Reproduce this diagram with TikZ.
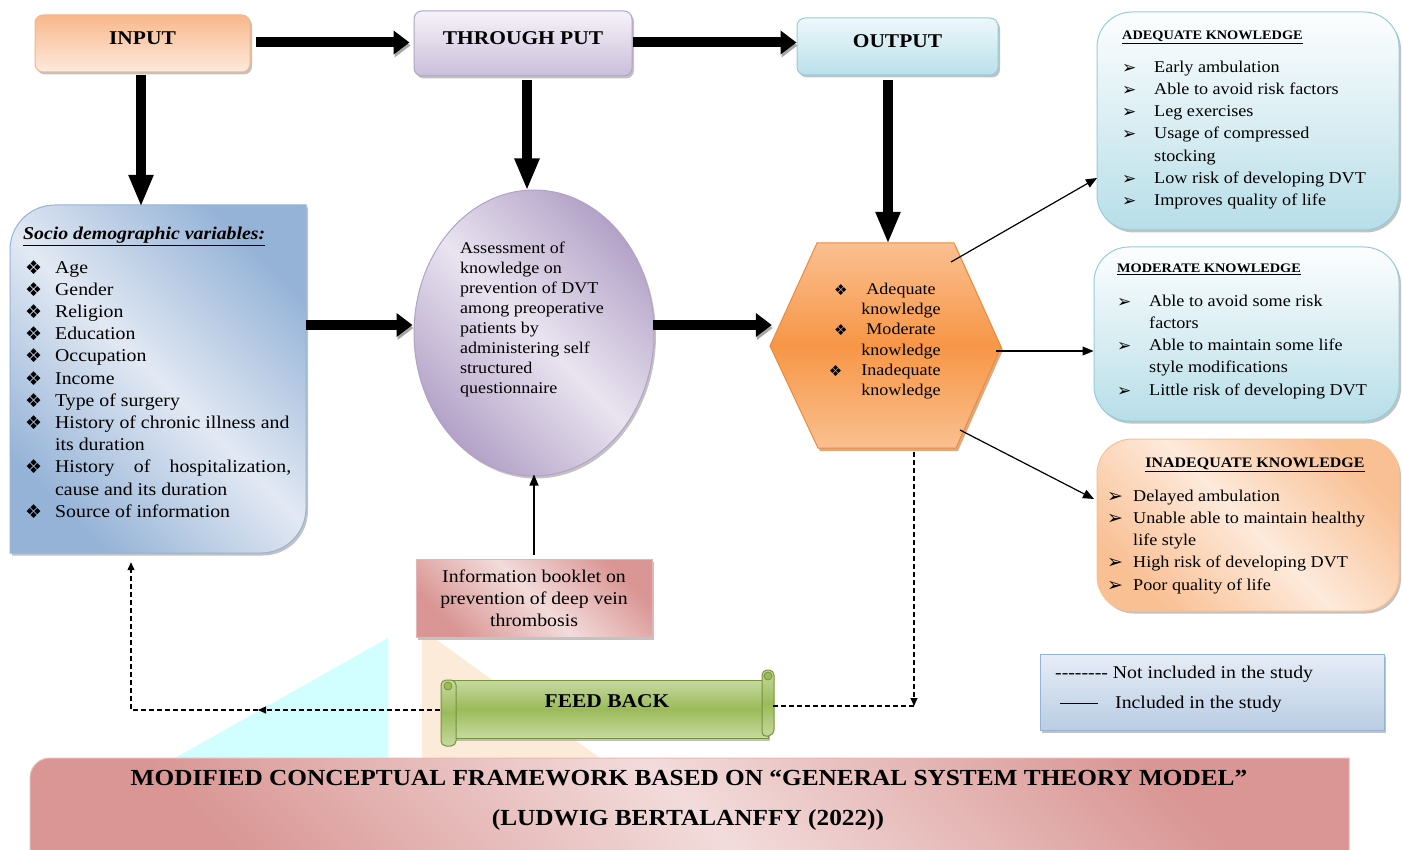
\documentclass[tikz,border=0pt]{standalone}
\usepackage{fontspec}
\setmainfont{Liberation Serif}[FakeStretch=1.1]
\newfontfamily\symf{DejaVu Sans}
\usetikzlibrary{shapes.geometric,arrows.meta,shadows,calc}
\definecolor{inOr}{HTML}{F8B88C}
\definecolor{inLt}{HTML}{FDEADC}
\definecolor{inBd}{HTML}{F6B48A}
\definecolor{puT}{HTML}{F6F3F9}
\definecolor{puB}{HTML}{CABEDA}
\definecolor{puBd}{HTML}{B3A2C7}
\definecolor{ouT}{HTML}{EEF8FA}
\definecolor{ouB}{HTML}{B9E0EA}
\definecolor{cyBd}{HTML}{93CDDD}
\definecolor{soD}{HTML}{95B3D7}
\definecolor{soL}{HTML}{E2E9F3}
\definecolor{elD}{HTML}{B3A2C7}
\definecolor{elL}{HTML}{E9E4F0}
\definecolor{hxL}{HTML}{FAC090}
\definecolor{hxD}{HTML}{F79646}
\definecolor{hxBd}{HTML}{EE8A3C}
\definecolor{hxSh}{HTML}{B65708}
\definecolor{cyT}{HTML}{FDFEFE}
\definecolor{cyB}{HTML}{B7DEE8}
\definecolor{orD}{HTML}{F9C094}
\definecolor{orL}{HTML}{FDEADB}
\definecolor{pkD}{HTML}{D99694}
\definecolor{pkL}{HTML}{F2DCDB}
\definecolor{pkBd}{HTML}{E6B9B8}
\definecolor{grG}{HTML}{9BBB59}
\definecolor{grL}{HTML}{C6D9A0}
\definecolor{grBd}{HTML}{76923C}
\definecolor{lgT}{HTML}{E6EDF6}
\definecolor{lgB}{HTML}{BACDE4}
\definecolor{wmC}{HTML}{D1FFFF}
\definecolor{wmP}{HTML}{FDEBD9}
\newcommand{\dmd}[1]{\raisebox{-1pt}{\symf\fontsize{#1}{#1}\selectfont ❖}}
\newcommand{\harr}[1]{\raisebox{-1pt}{\symf\fontsize{#1}{#1}\selectfont ➢}}
\newcommand{\fsz}[2]{\fontsize{#1}{#2}\selectfont}
\begin{document}
\begin{tikzpicture}[x=1pt,y=-1pt,
  hbig/.style={line width=10pt,-{Triangle[length=16pt,width=23pt]},
    preaction={draw=black!35,transform canvas={xshift=1pt,yshift=-3pt}}},
  vbig/.style={line width=10pt,-{Triangle[length=32pt,width=23pt]}},
  thinarr/.style={line width=1.2pt,-{Triangle[length=11pt,width=9pt]}},
  dashln/.style={line width=1.1pt,dash pattern=on 5pt off 3pt},
  dtip/.style={-{Triangle[length=8pt,width=7pt]}},
  sh/.style={drop shadow={shadow xshift=2pt,shadow yshift=-2.5pt,fill=black!40,opacity=0.6}},
  hdr/.style={font=\bfseries\fsz{19.5}{22},inner sep=0pt,line width=1pt,sh},
  anchorbox/.style={inner sep=0pt,draw=none}
]
\useasboundingbox (0,0) rectangle (1403,850);
% watermark shapes
\fill[wmC] (175,758) -- (388,638) -- (388,758) -- cycle;
\fill[wmP] (422,640) -- (437,640) -- (600,758) -- (422,758) -- cycle;

% header boxes
\node[hdr,draw=inBd,top color=inOr,bottom color=inLt,rounded corners=8pt,
  minimum width=215pt,minimum height=57pt] (input) at (142.5,43.5) {\raisebox{10.5pt}{INPUT}};
\node[hdr,draw=puBd,top color=puT,bottom color=puB,rounded corners=8pt,
  minimum width=218pt,minimum height=65pt] (thru) at (523,43.5) {\raisebox{10pt}{THROUGH PUT}};
\node[hdr,draw=cyBd,top color=ouT,bottom color=ouB,rounded corners=8pt,
  minimum width=201pt,minimum height=57pt] (output) at (897.5,46.5) {\raisebox{10.5pt}{OUTPUT}};

% socio demographic box
\node[anchorbox,minimum width=296pt,minimum height=348pt] (socio) at (158,379) {};
\path[draw=soD,line width=1pt,top color=soD,bottom color=soD,middle color=soL,shading angle=-45,sh]
  (10,553) -- (10,250) .. controls (10,225) and (30,205) .. (55,205) -- (306,205) -- (306,508)
  .. controls (306,533) and (286,553) .. (261,553) -- cycle;
\node[anchor=base west,inner sep=0pt,font=\bfseries\itshape\fsz{18}{22}] (sociotitle) at (23,240) {\underline{Socio demographic variables:}};
\node[anchor=north west,inner sep=0pt,align=left,font=\fsz{18}{22.2}] (sociolist) at (25,260) {%
\makebox[30pt][l]{\dmd{19}}Age\\
\makebox[30pt][l]{\dmd{19}}Gender\\
\makebox[30pt][l]{\dmd{19}}Religion\\
\makebox[30pt][l]{\dmd{19}}Education\\
\makebox[30pt][l]{\dmd{19}}Occupation\\
\makebox[30pt][l]{\dmd{19}}Income\\
\makebox[30pt][l]{\dmd{19}}Type of surgery\\
\makebox[30pt][l]{\dmd{19}}History of chronic illness and\\
\hspace*{30pt}its duration\\
\makebox[30pt][l]{\dmd{19}}\makebox[236pt][l]{History\hfill of\hfill hospitalization,}\\
\hspace*{30pt}cause and its duration\\
\makebox[30pt][l]{\dmd{19}}Source of information};

% ellipse
\node[ellipse,draw=elD,line width=1pt,minimum width=240pt,minimum height=286pt,
  top color=elD,bottom color=elD,middle color=elL,shading angle=-45,sh] (ell) at (534,333) {};
\node[anchor=north west,inner sep=0pt,align=left,font=\fsz{16.4}{20.1}] (elltext) at (460,241.5) {%
Assessment of\\knowledge on\\prevention of DVT\\among preoperative\\patients by\\administering self\\structured\\questionnaire};

% hexagon
\node[anchorbox,minimum width=231pt,minimum height=205pt] (hex) at (885.5,345.5) {};
\path[draw=hxBd,line width=1pt,top color=hxL,bottom color=hxL,middle color=hxD,
  drop shadow={shadow xshift=2pt,shadow yshift=-3pt,fill=hxSh}]
  (770,346) -- (817,243) -- (954,243) -- (1001,347) -- (956,448) -- (818,448) -- cycle;
\node[align=center,inner sep=0pt,font=\fsz{16.4}{20.2}] (hextext) at (901,341) {%
\llap{\dmd{15}\hspace{19pt}}Adequate\\knowledge\\
\llap{\dmd{15}\hspace{19pt}}Moderate\\knowledge\\
\llap{\dmd{15}\hspace{19pt}}Inadequate\\knowledge};

% right boxes
\node[draw=cyBd,line width=1pt,top color=cyT,bottom color=cyB,rounded corners=35pt,sh,
  minimum width=302pt,minimum height=218pt] (adq) at (1248,121) {};
\node[anchor=base west,inner sep=0pt,font=\bfseries\fsz{13}{15}] (adqtitle) at (1122,39.5) {\underline{ADEQUATE KNOWLEDGE}};
\node[anchor=north west,inner sep=0pt,align=left,font=\fsz{16.5}{22.25}] (adqlist) at (1122,60.5) {%
\makebox[32pt][l]{\harr{17}}Early ambulation\\
\makebox[32pt][l]{\harr{17}}Able to avoid risk factors\\
\makebox[32pt][l]{\harr{17}}Leg exercises\\
\makebox[32pt][l]{\harr{17}}Usage of compressed\\
\hspace*{32pt}stocking\\
\makebox[32pt][l]{\harr{17}}Low risk of developing DVT\\
\makebox[32pt][l]{\harr{17}}Improves quality of life};

\node[draw=cyBd,line width=1pt,top color=cyT,bottom color=cyB,rounded corners=35pt,sh,
  minimum width=305pt,minimum height=174pt] (mod) at (1246.5,334) {};
\node[anchor=base west,inner sep=0pt,font=\bfseries\fsz{13}{15}] (modtitle) at (1117,272.5) {\underline{MODERATE KNOWLEDGE}};
\node[anchor=north west,inner sep=0pt,align=left,font=\fsz{16.5}{22.25}] (modlist) at (1117,294.5) {%
\makebox[32pt][l]{\harr{17}}Able to avoid some risk\\
\hspace*{32pt}factors\\
\makebox[32pt][l]{\harr{17}}Able to maintain some life\\
\hspace*{32pt}style modifications\\
\makebox[32pt][l]{\harr{17}}Little risk of developing DVT};

\node[draw=hxL,line width=1pt,top color=orD,bottom color=orD,middle color=orL,shading angle=-45,
  rounded corners=35pt,sh,minimum width=302pt,minimum height=172pt] (inad) at (1248,525) {};
\node[anchor=base,inner sep=0pt,font=\bfseries\fsz{14.5}{16}] (inadtitle) at (1255,467) {\underline{INADEQUATE KNOWLEDGE}};
\node[anchor=north west,inner sep=0pt,align=left,font=\fsz{16.5}{22.25}] (inadlist) at (1107,489.5) {%
\makebox[26pt][l]{\harr{19}}Delayed ambulation\\
\makebox[26pt][l]{\harr{19}}Unable able to maintain healthy\\
\hspace*{26pt}life style\\
\makebox[26pt][l]{\harr{19}}High risk of developing DVT\\
\makebox[26pt][l]{\harr{19}}Poor quality of life};

% booklet
\node[draw=pkD!70,line width=1pt,top color=pkD,bottom color=pkD,middle color=pkL,shading angle=-45,sh,
  minimum width=236pt,minimum height=78pt,align=center,inner sep=0pt,font=\fsz{18}{22}] (booklet) at (534,598)
  {Information booklet on\\prevention of deep vein\\thrombosis};

% feed back scroll
\node[anchorbox,minimum width=333pt,minimum height=76pt] (fb) at (606.5,708) {};
\path[draw=grBd,line width=1pt,top color=grL,bottom color=grL,middle color=grG,sh]
  (450,680) -- (768,680) -- (768,738) -- (450,738) -- cycle;
\path[draw=grBd,line width=1pt,top color=grL,bottom color=grL,middle color=grG,rounded corners=5pt]
  (762,737) -- (762,670) -- (774,670) -- (774,735) -- cycle;
\path[draw=grBd,line width=0.8pt,fill=grG] (768,676) circle[radius=4pt];
\path[draw=grBd,line width=1pt,top color=grL,bottom color=grL,middle color=grG,rounded corners=5pt]
  (441,680) -- (456,680) -- (456,746) -- (441,746) -- cycle;
\path[draw=grBd,line width=0.8pt,fill=grG] (448,686) circle[radius=4pt];
\node[font=\bfseries\fsz{19.5}{22},inner sep=0pt] (fbtext) at (607,701) {FEED BACK};

% legend
\node[draw=soD,line width=1pt,top color=lgT,bottom color=lgB,sh,minimum width=344pt,minimum height=76pt] (legend) at (1212,692) {};
\node[anchor=north west,inner sep=0pt,align=left,font=\fsz{18}{30}] (legendtext) at (1055,665.5) {%
-{}-{}-{}-{}-{}-{}-{}-{} Not included in the study\\
\hspace*{5pt}\rule[4.5pt]{38pt}{1pt}\hspace{17pt}Included in the study};

% title banner
\path[draw=pkBd,line width=1pt,top color=pkD,bottom color=pkD,middle color=pkL,shading angle=-45]
  (30,856) -- (30,778) .. controls (30,767) and (39,758) .. (50,758) -- (1349,758) -- (1349,856) -- cycle;
\node[font=\bfseries\fsz{23}{26},inner sep=0pt] (title1) at (689,778) {MODIFIED CONCEPTUAL FRAMEWORK BASED ON “GENERAL SYSTEM THEORY MODEL”};
\node[font=\bfseries\fsz{23}{26},inner sep=0pt] (title2) at (688,820) {(LUDWIG BERTALANFFY (2022))};

% big arrows
\draw[hbig] ($(input.east)+(5,-1)$) -- ($(thru.west)+(-4,-1)$);
\draw[hbig] ($(thru.east)+(0,-1)$) -- ($(output.west)+(0,-4)$);
\coordinate (vx1) at (141,0);
\coordinate (vx2) at (527,0);
\coordinate (vx3) at (888,0);
\draw[vbig] ($(input.south -| vx1)+(0,3)$) -- ($(socio.north -| vx1)+(0,2)$);
\draw[vbig] ($(thru.south -| vx2)+(0,4)$) -- ($(ell.north -| vx2)+(0,1)$);
\draw[vbig] ($(output.south -| vx3)+(0,5)$) -- ($(hex.north -| vx3)+(0,1)$);
\coordinate (hy) at (0,325);
\draw[hbig] (socio.east |- hy) -- ($(ell.west |- hy)+(-1,0)$);
\draw[hbig] ($(ell.east |- hy)+(-2,0)$) -- ($(hex.west |- hy)+(2,0)$);

% thin arrows
\coordinate (h1) at (951,262);
\coordinate (t1) at (1097,178);
\coordinate (h2) at (996,351);
\coordinate (h3) at (960,430);
\coordinate (t3) at (1094,499);
\draw[thinarr] (h1) -- (t1);
\draw[thinarr] (h2) -- (mod.west |- h2);
\draw[thinarr] (h3) -- (t3);
\draw[thinarr] ($(booklet.north)+(0,-4)$) -- ($(ell.south)+(0,-2)$);

% dashed feedback loop
\coordinate (fbR) at (914,706);
\coordinate (fbM) at (258,710);
\coordinate (fbC) at (131,710);
\draw[dashln,dtip] ($(hex.south -| fbR)+(0,4)$) -- (fbR);
\draw[dashln] (fb.east |- fbR) -- (fbR);
\draw[dashln,dtip] (fb.west |- fbM) -- (fbM);
\draw[dashln,dtip] (fbM) -- (fbC) -- ($(fbC |- socio.south)+(0,9)$);
\end{tikzpicture}
\end{document}
